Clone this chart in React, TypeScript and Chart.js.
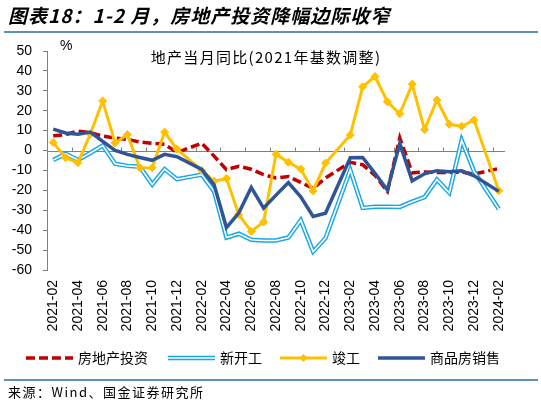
import React, { useEffect, useRef } from "react";
import { Chart, registerables } from "chart.js";

Chart.register(...registerables);

// Monthly categories; January figures are merged into Jan–Feb, so those slots stay empty.
const months = [
  "2021-02", "2021-03", "2021-04", "2021-05", "2021-06", "2021-07", "2021-08", "2021-09",
  "2021-10", "2021-11", "2021-12", "2022-01", "2022-02", "2022-03", "2022-04", "2022-05",
  "2022-06", "2022-07", "2022-08", "2022-09", "2022-10", "2022-11", "2022-12", "2023-01",
  "2023-02", "2023-03", "2023-04", "2023-05", "2023-06", "2023-07", "2023-08", "2023-09",
  "2023-10", "2023-11", "2023-12", "2024-01", "2024-02",
];

// 房地产投资 当月同比 (%)
const investment = [
  7.4, 8.0, 9.8, 9.0, 7.3, 6.3, 5.6, 4.3, 3.6, 3.2, -1.0, null,
  3.7, -2.8, -9.6, -7.9, -9.4, -12.1, -13.8, -13.1, -16.0, -19.0, -13.8, null,
  -5.9, -7.1, -12.5, -20.5, 6.4, -11.2, -10.8, -11.0, -11.0, -10.8, -11.8, null,
  -9.0,
];

// 新开工 当月同比 (%)
const newStarts = [
  -4.8, -1.6, -4.7, -1.2, 2.5, -6.6, -7.7, -8.1, -17.0, -9.3, -14.4, null,
  -12.1, -20.5, -43.7, -41.8, -44.8, -45.2, -45.2, -43.7, -35.0, -50.8, -44.0, null,
  -9.8, -28.8, -28.2, -28.2, -28.3, -25.7, -23.4, -14.6, -21.2, 5.2, -10.5, null,
  -29.4,
];

// 竣工 当月同比 (%)
const completions = [
  4.1, -3.6, -6.1, 8.3, 24.9, 3.8, 8.0, -8.8, -8.6, 9.3, 0.7, null,
  -10.0, -15.4, -14.0, -32.2, -40.6, -35.9, -1.9, -5.9, -9.3, -20.3, -6.3, null,
  7.8, 32.0, 37.2, 24.5, 18.5, 33.3, 10.5, 25.4, 13.2, 12.2, 15.3, null,
  -20.2,
];

// 商品房销售 当月同比 (%)
const sales = [
  10.8, 8.8, 8.2, 9.3, 4.6, 0.1, -1.9, -3.5, -4.9, -1.9, -3.1, null,
  -9.5, -17.2, -38.7, -31.3, -18.5, -28.9, -22.4, -16.1, -23.2, -33.1, -31.5, null,
  -3.6, -3.5, -11.5, -19.8, 3.6, -15.2, -11.7, -10.1, -10.6, -10.2, -12.7, null,
  -20.5,
];

const Y_MIN = -60;
const Y_MAX = 50;
const Y_STEP = 10;

const RED = "#C00000";
const CYAN = "#1AA7E6";
const GOLD = "#FFC000";
const NAVY = "#2F5597";
const AXIS = "#808080";

const CJK = '"Noto Sans CJK SC", sans-serif';
const LATIN = '"Liberation Sans", Arial, sans-serif';

const W = 541;
const H = 405;

const decorPlugin = {
  id: "decor",
  beforeDatasetsDraw(chart: any) {
    const { ctx, chartArea } = chart;
    const xs = chart.scales.x;
    const ys = chart.scales.y;
    const y0 = Math.round(ys.getPixelForValue(0)) + 0.5;
    ctx.save();
    ctx.strokeStyle = AXIS;
    ctx.lineWidth = 1;
    ctx.beginPath();
    ctx.moveTo(chartArea.left, y0);
    ctx.lineTo(chartArea.right, y0);
    // tick marks between categories, in front of every labelled month
    for (let i = 2; i < months.length; i += 2) {
      const x = Math.round((xs.getPixelForValue(i - 1) + xs.getPixelForValue(i)) / 2) + 0.5;
      ctx.moveTo(x, y0);
      ctx.lineTo(x, y0 - 4);
    }
    ctx.stroke();
    ctx.restore();
  },
  afterDraw(chart: any) {
    const { ctx } = chart;
    ctx.save();

    // heading
    ctx.fillStyle = "#000";
    ctx.textBaseline = "middle";
    ctx.textAlign = "left";
    ctx.font = `italic bold 19px ${CJK}`;
    (ctx as any).letterSpacing = "1px";
    ctx.fillText("图表18：1-2 月，房地产投资降幅边际收窄", 8, 16);
    (ctx as any).letterSpacing = "0px";

    // rules above and below the figure
    ctx.strokeStyle = "#2A6CA6";
    ctx.lineWidth = 1.5;
    ctx.beginPath();
    ctx.moveTo(4, 32);
    ctx.lineTo(W - 3, 32);
    ctx.moveTo(4, 380);
    ctx.lineTo(W - 3, 380);
    ctx.stroke();

    // unit and chart caption
    ctx.fillStyle = "#000";
    ctx.font = `14px ${LATIN}`;
    ctx.fillText("%", 60, 46);
    ctx.font = `15px ${CJK}`;
    ctx.textAlign = "center";
    (ctx as any).letterSpacing = "1.3px";
    ctx.fillText("地产当月同比(2021年基数调整)", 266, 57);
    (ctx as any).letterSpacing = "0px";

    // legend
    const ly = 358;
    const seg = (x1: number, x2: number, color: string, width: number, dash: number[] = []) => {
      ctx.strokeStyle = color;
      ctx.lineWidth = width;
      ctx.setLineDash(dash);
      ctx.beginPath();
      ctx.moveTo(x1, ly);
      ctx.lineTo(x2, ly);
      ctx.stroke();
      ctx.setLineDash([]);
    };
    const label = (x: number, text: string) => {
      ctx.fillStyle = "#000";
      ctx.textAlign = "left";
      ctx.font = `14px ${CJK}`;
      ctx.fillText(text, x, ly);
    };
    seg(26, 73, RED, 3.5, [9, 4]);
    label(78, "房地产投资");
    seg(168, 215, CYAN, 4.5);
    seg(168, 215, "#fff", 1.6);
    label(220, "新开工");
    seg(280, 327, GOLD, 3);
    ctx.fillStyle = GOLD;
    ctx.beginPath();
    ctx.moveTo(303.5, ly - 4);
    ctx.lineTo(307.5, ly);
    ctx.lineTo(303.5, ly + 4);
    ctx.lineTo(299.5, ly);
    ctx.closePath();
    ctx.fill();
    label(332, "竣工");
    seg(378, 425, NAVY, 3.5);
    label(430, "商品房销售");

    // source note
    ctx.fillStyle = "#000";
    ctx.font = `13px ${CJK}`;
    (ctx as any).letterSpacing = "1.5px";
    ctx.fillText("来源：Wind、国金证券研究所", 8, 392);
    (ctx as any).letterSpacing = "0px";

    ctx.restore();
  },
};

export default function App() {
  const canvasRef = useRef<HTMLCanvasElement | null>(null);

  useEffect(() => {
    const canvas = canvasRef.current;
    if (!canvas) return;

    const chart = new Chart(canvas, {
      type: "line",
      data: {
        labels: months,
        datasets: [
          {
            label: "商品房销售",
            data: sales,
            borderColor: NAVY,
            borderWidth: 3.5,
            pointRadius: 0,
            spanGaps: true,
            order: 0,
          },
          {
            label: "竣工",
            data: completions,
            borderColor: GOLD,
            backgroundColor: GOLD,
            borderWidth: 3,
            pointStyle: "rectRot",
            pointRadius: 4,
            pointBorderWidth: 1,
            pointBackgroundColor: GOLD,
            pointBorderColor: GOLD,
            spanGaps: true,
            order: 1,
          },
          {
            label: "新开工-core",
            data: newStarts,
            borderColor: "#ffffff",
            borderWidth: 1.6,
            pointRadius: 0,
            spanGaps: true,
            order: 2,
          },
          {
            label: "新开工",
            data: newStarts,
            borderColor: CYAN,
            borderWidth: 4.5,
            pointRadius: 0,
            spanGaps: true,
            order: 3,
          },
          {
            label: "房地产投资",
            data: investment,
            borderColor: RED,
            borderWidth: 3.5,
            borderDash: [9, 4],
            pointRadius: 0,
            spanGaps: true,
            order: 4,
          },
        ],
      },
      options: {
        responsive: false,
        animation: false,
        devicePixelRatio: 1,
        layout: { padding: { left: 0, right: 36, top: 51, bottom: 0 } },
        plugins: {
          legend: { display: false },
          title: { display: false },
          tooltip: { enabled: false },
        },
        elements: { line: { tension: 0 } },
        scales: {
          x: {
            type: "category",
            offset: true,
            grid: { display: false, drawTicks: false },
            border: { display: false },
            ticks: {
              autoSkip: false,
              maxRotation: 90,
              minRotation: 90,
              padding: 10,
              color: "#000",
              font: { family: LATIN, size: 14 },
              callback: (_v: any, i: number) => (i % 2 === 0 ? months[i] : ""),
            },
            afterFit: (scale: any) => {
              scale.height = H - 270;
            },
          },
          y: {
            min: Y_MIN,
            max: Y_MAX,
            border: { display: true, color: AXIS, width: 1 },
            grid: {
              drawOnChartArea: false,
              drawTicks: true,
              tickLength: 4,
              color: AXIS,
            },
            ticks: {
              stepSize: Y_STEP,
              padding: 11,
              color: "#000",
              font: { family: LATIN, size: 14 },
            },
            afterFit: (scale: any) => {
              scale.width = 47;
            },
          },
        },
      },
      plugins: [decorPlugin],
    });

    return () => chart.destroy();
  }, []);

  return (
    <div style={{ position: "fixed", left: 0, top: 0, width: W, height: H, background: "#fff" }}>
      <canvas ref={canvasRef} width={W} height={H} style={{ display: "block" }} />
    </div>
  );
}
